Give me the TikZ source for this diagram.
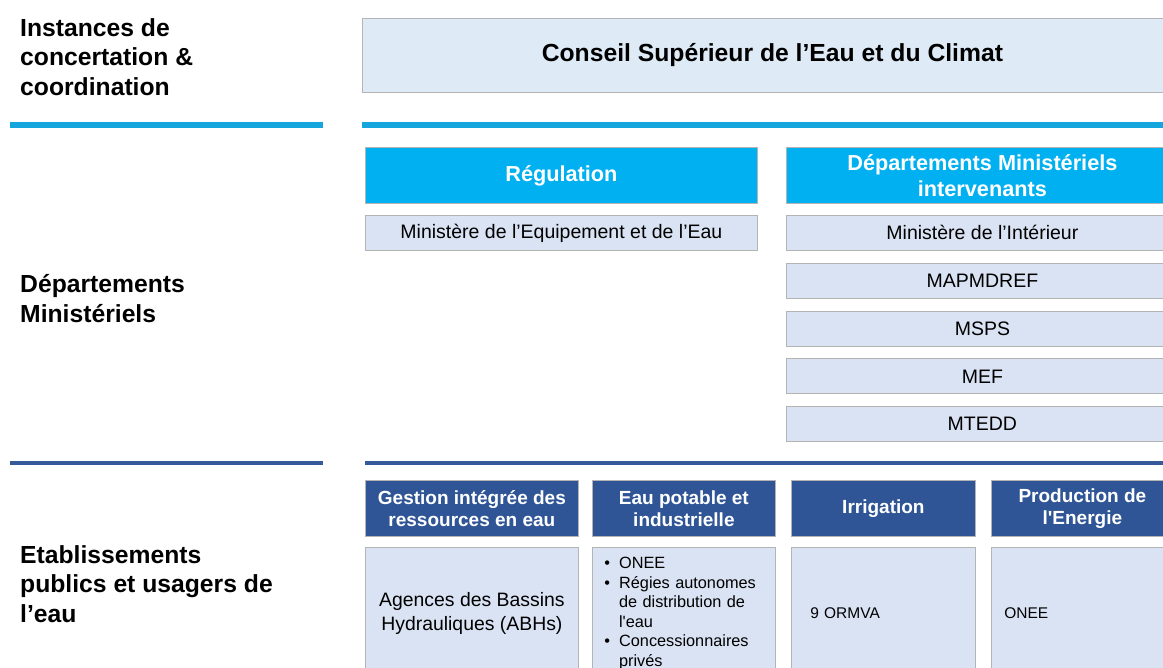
\documentclass[tikz,border=0pt]{standalone}
\usepackage{fontspec}
\setmainfont{Liberation Sans}
\usetikzlibrary{positioning}
\definecolor{regcyan}{HTML}{00B0F0}
\definecolor{linecyan}{HTML}{14A6DD}
\definecolor{etabblue}{HTML}{2F5597}
\definecolor{linedark}{HTML}{36599A}
\definecolor{conseilfill}{HTML}{DEEBF7}
\definecolor{boxfill}{HTML}{DAE3F3}
\definecolor{boxedge}{HTML}{B4B4B4}

\begin{document}
\begin{tikzpicture}[
    x=1pt, y=-1pt,
    node distance=12pt,
    base/.style={
        draw=boxedge,
        line width=0.8pt,
        inner sep=0pt,
        align=center,
        anchor=north west
    },
    level/.style={font=\bfseries\fontsize{24.7}{29.5}\selectfont, align=left, anchor=north west, inner sep=0pt},
    conseil/.style={base, fill=conseilfill, minimum width=820pt, minimum height=74pt, font=\bfseries\fontsize{24.7}{29.5}\selectfont},
    cyanhead/.style={base, fill=regcyan, text=white, minimum width=392pt, minimum height=56pt, font=\bfseries\fontsize{21.7}{26}\selectfont},
    minbox/.style={base, fill=boxfill, minimum width=392pt, minimum height=35pt, font=\fontsize{19.5}{23}\selectfont},
    darkhead/.style={base, fill=etabblue, text=white, minimum height=56pt, font=\bfseries\fontsize{19}{22}\selectfont},
    etabbox/.style={base, fill=boxfill, minimum height=132pt, font=\fontsize{19.4}{24}\selectfont},
    etableft/.style={etabbox, align=left, font=\fontsize{15.5}{19.5}\selectfont},
    cyanrule/.style={draw=linecyan, line width=5.5pt},
    darkrule/.style={draw=linedark, line width=4.5pt}
]

    \useasboundingbox (0,0) rectangle (1163,668);
    \clip (0,0) rectangle (1163,668);

    % LEVEL LABELS
    \node[level] (lvlinst) at (20,18) {Instances de\\concertation \&\\coordination};
    \node[level] (lvldep) at (20,274.5) {Départements\\Ministériels};
    \node[level] (lvletab) at (20,545) {Etablissements\\publics et usagers de\\l’eau};

    % SEPARATORS
    \draw[cyanrule] (10,125) -- (323,125);
    \draw[cyanrule] (362,125) -- (1163,125);
    \draw[darkrule] (10,463) -- (323,463);
    \draw[darkrule] (365,463) -- (1163,463);

    % CONCERTATION
    \node[conseil] (cseec) at (362,18) {Conseil Supérieur de l’Eau et du Climat};

    % DEPARTEMENTS MINISTERIELS
    \node[cyanhead] (regul) at (365,147) {Régulation};
    \node[minbox] (mee) at (365,215) {Ministère de l’Equipement et de l’Eau};

    \node[cyanhead] (dmi) at (786,147) {Départements Ministériels\\intervenants};
    \node[minbox] (mint) at (786,215) {Ministère de l’Intérieur};
    \node[minbox, below=of mint] (mapm) {MAPMDREF};
    \node[minbox, below=of mapm] (msps) {MSPS};
    \node[minbox, below=of msps] (mef) {MEF};
    \node[minbox, below=of mef] (mtedd) {MTEDD};

    % ETABLISSEMENTS PUBLICS
    \node[darkhead, minimum width=213pt] (girehead) at (365,480) {Gestion intégrée des\\ressources en eau};
    \node[darkhead, minimum width=183pt] (aepihead) at (592,480) {Eau potable et\\industrielle};
    \node[darkhead, minimum width=184pt] (irrhead) at (791,480) {Irrigation};
    \node[darkhead, minimum width=182pt] (enrhead) at (991,480) {Production de\\l\textquotesingle Energie};

    \node[etabbox, minimum width=213pt] (abh) at (365,547) {Agences des Bassins\\Hydrauliques (ABHs)};
    \node[etableft, inner xsep=12pt, text width=159pt, font=\fontsize{16.3}{19.5}\selectfont] (aepi) at (592,547) {%
        \begin{tabular}{@{}l@{\hspace{9pt}}l@{}}
        \textbullet & ONEE\\
        \textbullet & Régies autonomes\\
                    & de distribution de\\
                    & l\textquotesingle eau\\
        \textbullet & Concessionnaires\\
                    & privés
        \end{tabular}};
    \node[etableft, inner xsep=19pt, text width=146pt] (ormva) at (791,547) {9 ORMVA};
    \node[etableft, inner xsep=13pt, text width=156pt] (onee) at (991,547) {ONEE};

\end{tikzpicture}
\end{document}
